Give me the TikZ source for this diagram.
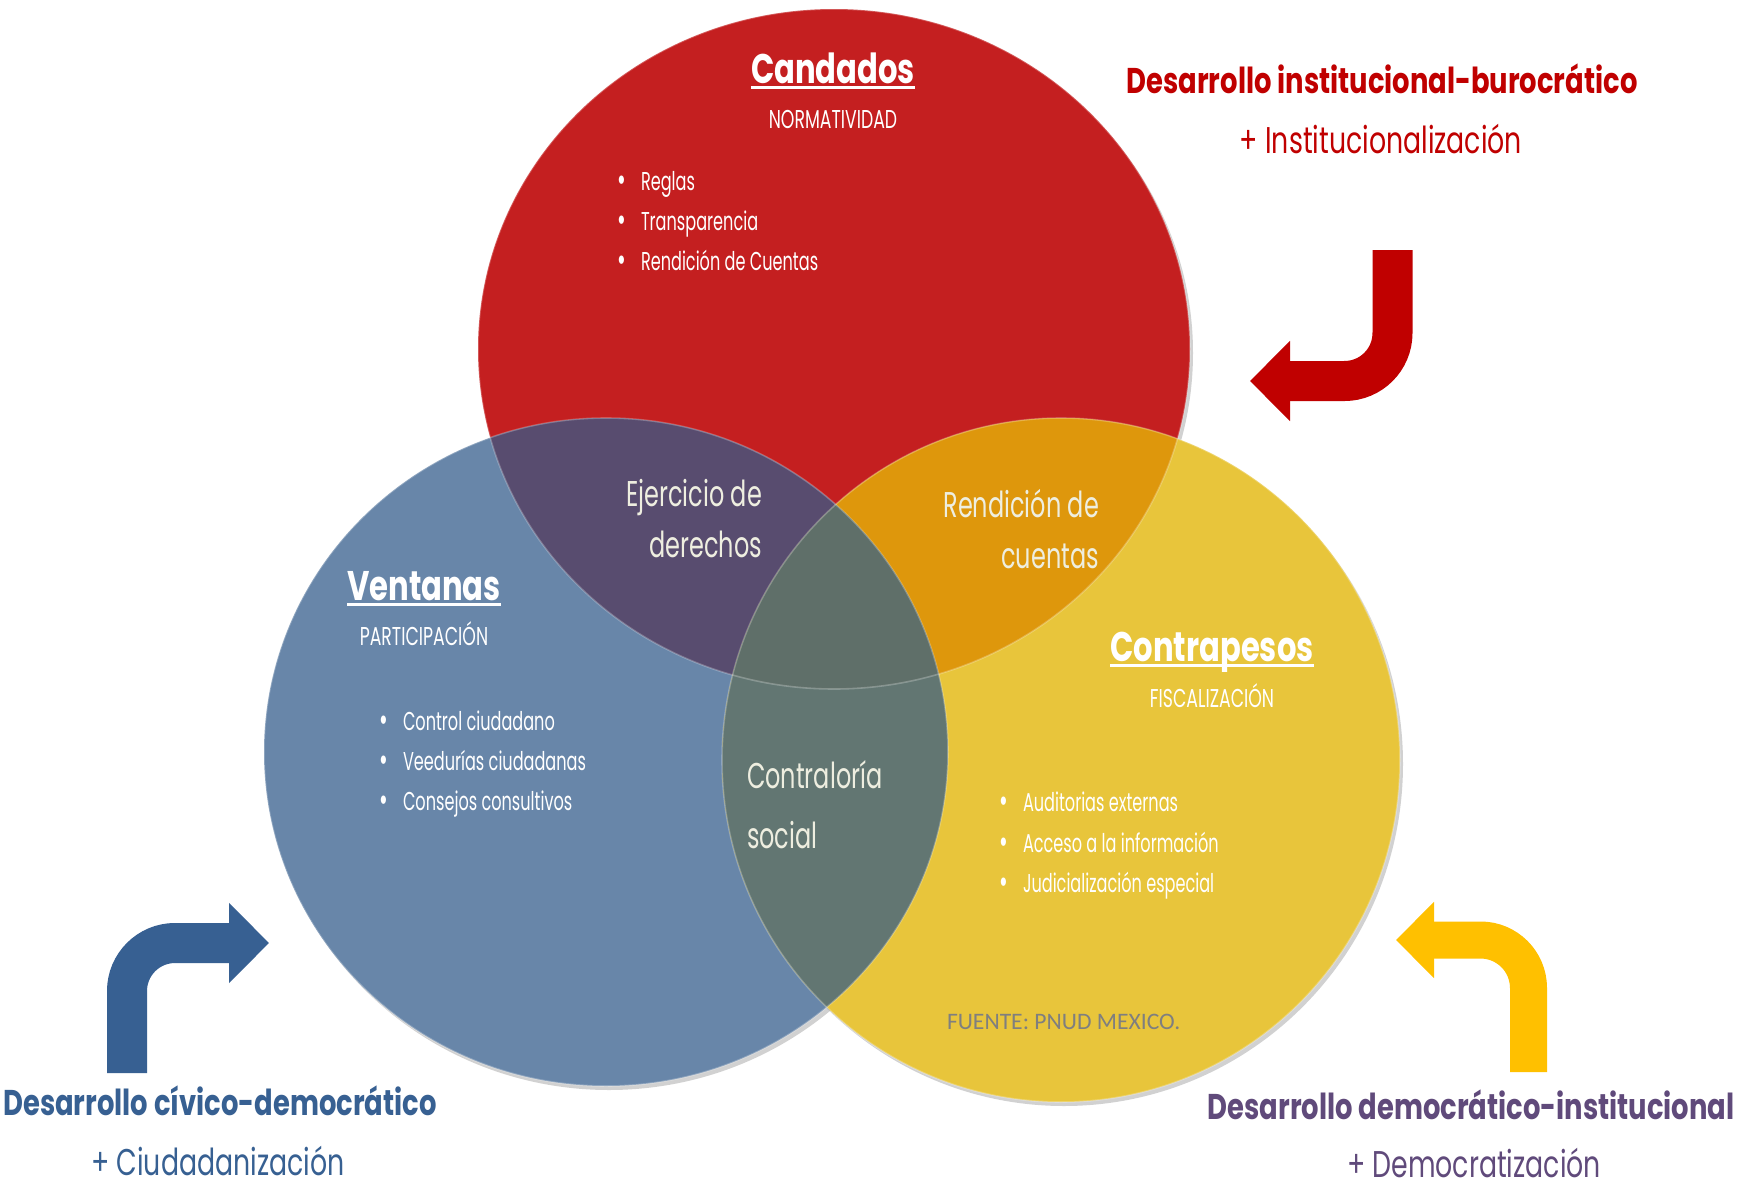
\documentclass[tikz,border=0pt]{standalone}
\usepackage{fontspec}
\setmainfont{Poppins}[FakeStretch=0.72]
\newfontfamily\itemfont{Poppins}[FakeStretch=0.625]
\newfontfamily\labelfont{Poppins}[FakeStretch=0.67]
\newfontfamily\titlefont{Poppins}[FakeStretch=0.74]
\newfontfamily\devfont{Poppins}[FakeStretch=0.765]
\newfontfamily\srcfont{Carlito}
\usetikzlibrary{arrows.meta}

\definecolor{candadosred}{HTML}{C41F20}
\definecolor{ventanasblue}{HTML}{6886A9}
\definecolor{contrayellow}{HTML}{E8C53B}
\definecolor{ejerciciopurple}{HTML}{584C6F}
\definecolor{rendicionorange}{HTML}{DE970C}
\definecolor{contraloriagreen}{HTML}{627672}
\definecolor{centergreen}{HTML}{5F6F69}
\definecolor{labelcream}{HTML}{EEEEE0}
\definecolor{instred}{HTML}{C00000}
\definecolor{civicblue}{HTML}{376092}
\definecolor{demopurple}{HTML}{604A7B}
\definecolor{demoyellow}{HTML}{FFC000}
\definecolor{sourcegray}{HTML}{7F7F7F}

\newcommand{\bul}{\makebox[12pt][l]{\raisebox{-0.6pt}{\fontsize{17}{17}\selectfont\textbullet}}}

\tikzset{
  txt/.style={inner sep=0pt, outer sep=0pt},
  title/.style={txt, white, anchor=base, font=\titlefont\bfseries\fontsize{20.7}{20.7}\selectfont},
  subtitle/.style={txt, white, anchor=base, font=\labelfont\fontsize{12.9}{12.9}\selectfont},
  item/.style={txt, white, anchor=base west, font=\itemfont\fontsize{12.9}{12.9}\selectfont},
  overlap/.style={txt, labelcream, font=\labelfont\fontsize{17.9}{17.9}\selectfont},
  devtitle/.style={txt, anchor=base, font=\devfont\bfseries\fontsize{17.9}{17.9}\selectfont},
  devsub/.style={txt, anchor=base, text depth=0pt, font=\fontsize{18.6}{18.6}\selectfont},
  uline/.style={white, line width=1.2pt},
  shade/.style={black, opacity=0.18},
  bentarrow/.style={line width=20pt, rounded corners=24pt, -{Triangle[length=20pt,width=39pt]}},
}

\begin{document}
\begin{tikzpicture}[x=0.5pt,y=-0.5pt]
    \useasboundingbox[fill=white] (0,0) rectangle (1742,1189);

    % shadows of the three sets
    \fill[shade] (837,353) ellipse [x radius=356, y radius=340];
    \fill[shade] (609,756) ellipse [x radius=342, y radius=334];
    \fill[shade] (1064,764) ellipse [x radius=339, y radius=342];

    % the three sets
    \fill[candadosred]  (834,349) ellipse [x radius=356, y radius=340];
    \fill[ventanasblue] (606,752) ellipse [x radius=342, y radius=334];
    \fill[contrayellow] (1061,760) ellipse [x radius=339, y radius=342];

    % overlaps
    \begin{scope}
        \clip (834,349) ellipse [x radius=356, y radius=340];
        \fill[ejerciciopurple] (606,752) ellipse [x radius=342, y radius=334];
        \fill[rendicionorange] (1061,760) ellipse [x radius=339, y radius=342];
    \end{scope}
    \begin{scope}
        \clip (606,752) ellipse [x radius=342, y radius=334];
        \fill[contraloriagreen] (1061,760) ellipse [x radius=339, y radius=342];
    \end{scope}
    \begin{scope}
        \clip (834,349) ellipse [x radius=356, y radius=340];
        \clip (606,752) ellipse [x radius=342, y radius=334];
        \fill[centergreen] (1061,760) ellipse [x radius=339, y radius=342];
    \end{scope}

    % rims
    \draw[white, opacity=0.25, line width=0.8pt] (834,349) ellipse [x radius=356, y radius=340];
    \draw[white, opacity=0.25, line width=0.8pt] (606,752) ellipse [x radius=342, y radius=334];
    \draw[white, opacity=0.25, line width=0.8pt] (1061,760) ellipse [x radius=339, y radius=342];

    % Candados
    \node[title]    (candados) at (833,83)   {Candados};
    \node[subtitle] (normatividad) at (833,128) {NORMATIVIDAD};
    \node[item] (reglas)        at (617,190) {\bul Reglas};
    \node[item] (transparencia) at (617,230) {\bul Transparencia};
    \node[item] (rendicion)     at (617,270) {\bul Rendición de Cuentas};
    \draw[uline] ([yshift=-2.2pt]candados.base west) -- ([yshift=-2.2pt]candados.base east);

    % Ventanas
    \node[title]    (ventanas) at (424,600) {Ventanas};
    \node[subtitle] (participacion) at (424,645) {PARTICIPACIÓN};
    \node[item] (control)    at (379,730) {\bul Control ciudadano};
    \node[item] (veedurias)  at (379,770) {\bul Veedurías ciudadanas};
    \node[item] (consejos)   at (379,810) {\bul Consejos consultivos};
    \draw[uline] ([yshift=-2.2pt]ventanas.base west) -- ([yshift=-2.2pt]ventanas.base east);

    % Contrapesos
    \node[title]    (contrapesos) at (1212,661) {Contrapesos};
    \node[subtitle] (fiscalizacion) at (1212,707) {FISCALIZACIÓN};
    \node[item] (auditorias) at (999,811) {\bul Auditorias externas};
    \node[item] (acceso)     at (999,852) {\bul Acceso a la información};
    \node[item] (judicial)   at (999,892) {\bul Judicialización especial};
    \draw[uline] ([yshift=-2.2pt]contrapesos.base west) -- ([yshift=-2.2pt]contrapesos.base east);

    % overlap labels
    \node[overlap, anchor=base east] (ejercicio)  at (762,506)  {Ejercicio de};
    \node[overlap, anchor=base east] (derechos)   at (762,557)  {derechos};
    \node[overlap, anchor=base east] (rendicion2) at (1099,517) {Rendición de};
    \node[overlap, anchor=base east] (cuentas)    at (1099,568) {cuentas};
    \node[overlap, anchor=base west] (contraloria) at (747,788) {Contraloría};
    \node[overlap, anchor=base west] (social)      at (747,848) {social};

    \node[txt, anchor=base west, sourcegray, font=\srcfont\fontsize{11.8}{11.8}\selectfont] (fuente) at (947,1029) {FUENTE: PNUD MEXICO.};

    % development paths
    \node[devtitle, instred] (insttitle) at (1382,93)  {Desarrollo institucional-burocrático};
    \node[devsub, instred]   (instsub)   at (1381,153) {+ Institucionalización};
    \node[devtitle, civicblue] (civictitle) at (220,1115) {Desarrollo cívico-democrático};
    \node[devsub, civicblue]   (civicsub)   at (218,1175) {+ Ciudadanización};
    \node[devtitle, demopurple] (demotitle) at (1471,1119) {Desarrollo democrático-institucional};
    \node[devsub, demopurple]   (demosub)   at (1474,1177) {+ Democratización};

    % bent arrows
    \coordinate (inststart) at (1392.5,250);
    \coordinate (insttip)   at (1250,381);
    \coordinate (civicstart) at (127,1073);
    \coordinate (civictip)   at (269,943);
    \coordinate (demostart) at (1528.5,1072);
    \coordinate (demotip)   at (1396,940);
    \draw[bentarrow, instred] (inststart) |- (insttip);
    \draw[bentarrow, civicblue] (civicstart) |- (civictip);
    \draw[bentarrow, demoyellow, line width=18.5pt, -{Triangle[length=19pt,width=37pt]}] (demostart) |- (demotip);
\end{tikzpicture}
\end{document}
